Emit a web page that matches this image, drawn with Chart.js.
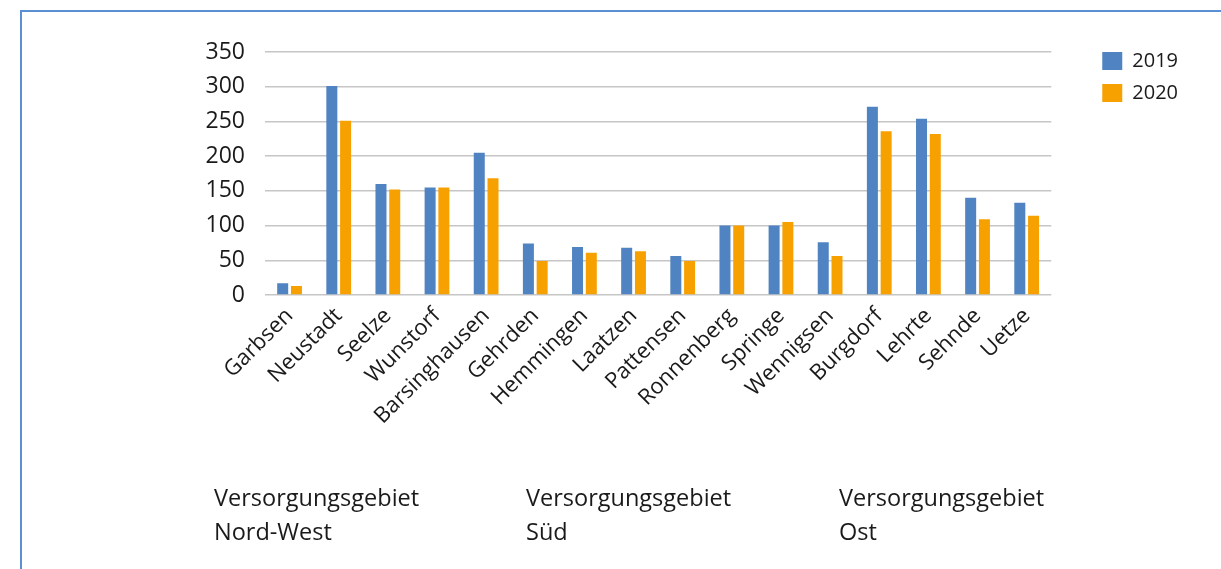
<!DOCTYPE html>
<html lang="de">
<head>
<meta charset="utf-8">
<title>Versorgungsgebiete 2019 / 2020</title>
<script src="https://cdn.jsdelivr.net/npm/chart.js@4/dist/chart.umd.min.js"></script>
<style>
  html, body { margin: 0; padding: 0; background: #fff; }
  body { width: 1221px; height: 569px; position: relative; overflow: hidden; font-family: "Open Sans", sans-serif; }
  #frame { position: absolute; left: 20px; top: 10px; width: 1203px; height: 600px; border: 2px solid #5b8fd4; box-sizing: border-box; }
  #wrap { position: absolute; left: 0; top: 0; width: 1221px; height: 569px; }
  .gebiet { position: absolute; top: 480px; font-size: 23.5px; line-height: 34px; color: #1a1a1a; }
</style>
</head>
<body>
<div id="frame"></div>
<div id="wrap"><canvas id="chartContainer"></canvas></div>
<div class="gebiet" style="left:214px">Versorgungsgebiet<br>Nord-West</div>
<div class="gebiet" style="left:526px">Versorgungsgebiet<br>Süd</div>
<div class="gebiet" style="left:839px">Versorgungsgebiet<br>Ost</div>

<script>
const orte = ['Garbsen', 'Neustadt', 'Seelze', 'Wunstorf', 'Barsinghausen', 'Gehrden',
    'Hemmingen', 'Laatzen', 'Pattensen', 'Ronnenberg', 'Springe', 'Wennigsen',
    'Burgdorf', 'Lehrte', 'Sehnde', 'Uetze'];
const werte2019 = [17, 301, 160, 155, 205, 74, 69, 68, 56, 100, 100, 76, 271, 254, 140, 133];
const werte2020 = [13, 251, 152, 155, 168, 49, 61, 63, 49, 100, 105, 56, 236, 232, 109, 114];
const jahre = ['2019', '2020'];
const yTicks = [0, 50, 100, 150, 200, 250, 300, 350];

document.addEventListener("DOMContentLoaded", () => {
    initializeChart();
});

function initializeChart() {
    const ctx = document.getElementById('chartContainer').getContext('2d');
    const chart = new Chart(ctx, {
        type: 'bar',
        data: {
            labels: orte,
            datasets: [{
                label: jahre[0],
                data: werte2019,
                backgroundColor: '#5083c2',
                categoryPercentage: 0.56,
                barPercentage: 0.8
            }, {
                label: jahre[1],
                data: werte2020,
                backgroundColor: '#f7a100',
                categoryPercentage: 0.56,
                barPercentage: 0.8
            }]
        },
        options: {
            responsive: true,
            maintainAspectRatio: false,
            animation: false,
            layout: {
                padding: {top: 39, right: 33, left: 0, bottom: 0}
            },
            scales: {
                x: {
                    grid: {display: false},
                    border: {display: false},
                    ticks: {
                        color: '#1a1a1a',
                        font: {family: 'Open Sans', size: 22},
                        minRotation: 45,
                        maxRotation: 45,
                        autoSkip: false,
                        padding: 0
                    },
                    afterFit: (s) => { s.height = 274; }
                },
                y: {
                    min: 0,
                    max: 350,
                    afterBuildTicks: (s) => { s.ticks = yTicks.map(v => ({value: v})); },
                    grid: {color: '#c6c6c6', lineWidth: 1.5, drawTicks: false},
                    border: {display: false},
                    ticks: {
                        color: '#1a1a1a',
                        font: {family: 'Open Sans', size: 23},
                        padding: 20
                    },
                    afterFit: (s) => { s.width = 265; s.paddingTop = 52; s.paddingBottom = 0; }
                },
                luecke: {
                    type: 'linear',
                    position: 'right',
                    display: true,
                    grid: {display: false},
                    border: {display: false},
                    ticks: {display: false},
                    afterFit: (s) => { s.width = 39; }
                }
            },
            plugins: {
                tooltip: {enabled: false},
                legend: {
                    display: true,
                    position: 'right',
                    align: 'start',
                    labels: {
                        color: '#1a1a1a',
                        font: {family: 'Open Sans', size: 20},
                        boxWidth: 20,
                        boxHeight: 18,
                        padding: 12
                    }
                }
            }
        }
    });
}
</script>
</body>
</html>
